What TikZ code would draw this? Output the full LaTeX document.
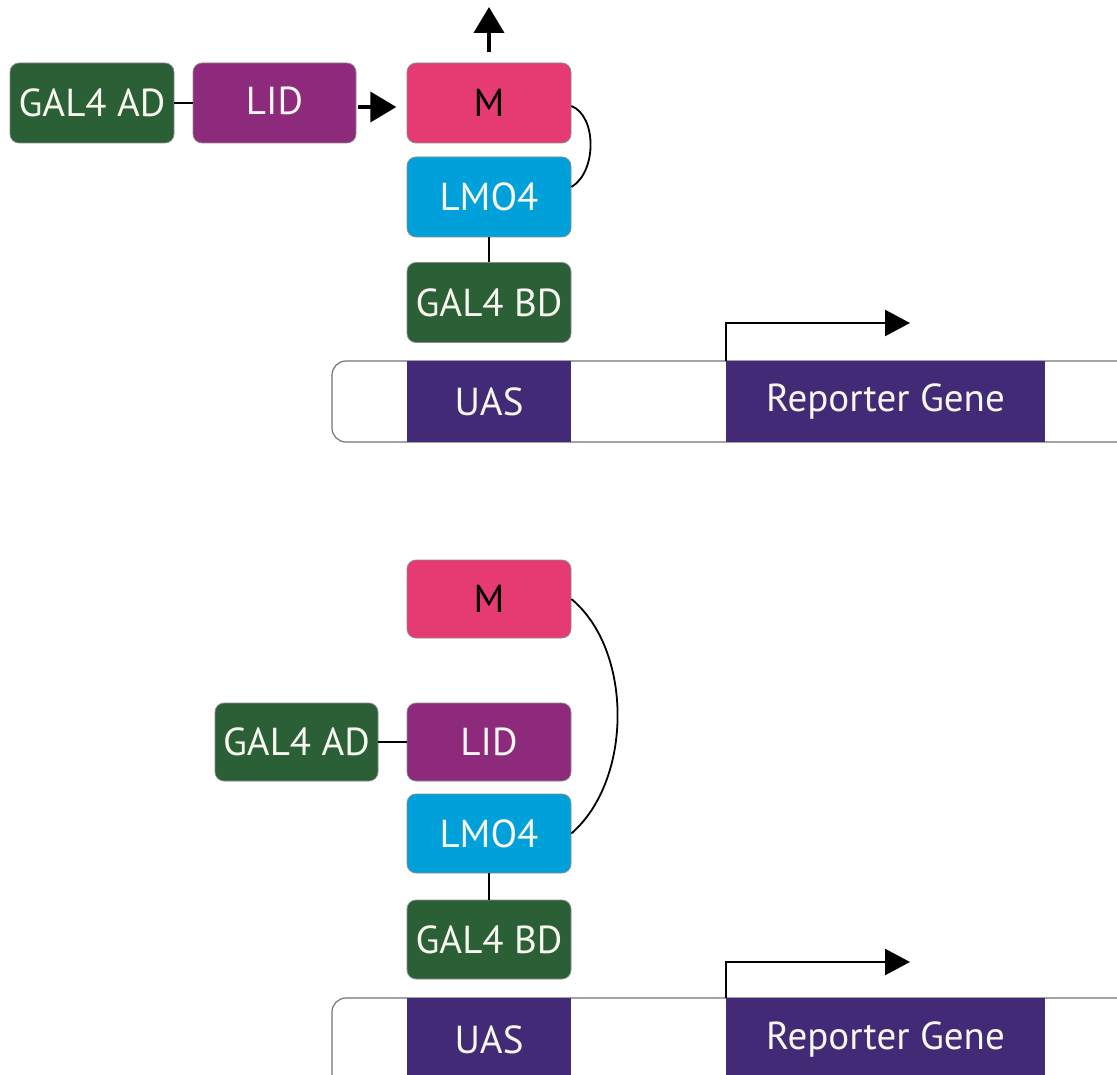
\documentclass[tikz,border=0pt]{standalone}
\usepackage{fontspec}
\setmainfont{PT Sans}
\usetikzlibrary{arrows.meta}
\definecolor{galgreen}{HTML}{2B5F35}
\definecolor{lidpurple}{HTML}{8E2A7B}
\definecolor{mpink}{HTML}{E63A72}
\definecolor{lmoblue}{HTML}{00A0DA}
\definecolor{dnapurple}{HTML}{432A76}
\definecolor{txtwhite}{HTML}{F7F7F0}
\tikzset{
  prot/.style={rounded corners=9pt, minimum width=164pt, minimum height=80pt, inner sep=0pt,
    draw=black!45, line width=0.7pt, text=txtwhite, font=\fontsize{39}{43}\selectfont},
  gene/.style={minimum height=81pt, inner sep=0pt, fill=dnapurple, draw=none,
    text=txtwhite, font=\fontsize{39}{43}\selectfont},
  link/.style={line width=1.8pt, black},
  bigarrow/.style={line width=4pt, -{Triangle[length=26pt,width=30pt]}},
  promarrow/.style={line width=2.4pt, -{Triangle[length=25pt,width=26pt]}},
}
\begin{document}
\begin{tikzpicture}[x=1pt,y=-1pt]
\clip (0,0) rectangle (1117,1075);
\fill[white] (0,0) rectangle (1117,1075);

% ---------- top panel ----------
\node[prot, fill=galgreen] (adT) at (92,103) {GAL4 AD};
\node[prot, fill=lidpurple, minimum width=163pt] (lidT) at (274.5,103) {\raisebox{4pt}{LID}};
\node[prot, fill=mpink, text=black] (mT) at (489,103) {M};
\node[prot, fill=lmoblue] (lmoT) at (489,197) {LMO4};
\node[prot, fill=galgreen] (bdT) at (489,302.5) {GAL4 BD};

\draw[rounded corners=14pt, draw=black!55, line width=1.2pt, fill=white]
  (1140,361) -- (332,361) -- (332,442) -- (1140,442);
\node[gene, minimum width=164pt] (uasT) at (489,401.5) {UAS};
\node[gene, minimum width=319pt] (repT) at (885.5,401.5) {Reporter Gene};

\draw[link] (adT) -- (lidT);
\draw[bigarrow] (lidT.east) ++(2,4) coordinate (lidTout) -- ++(38,0) coordinate (mTin);
\coordinate (mTup) at ([yshift=11pt]mT.north);
\coordinate (mTtop) at (489,7);
\draw[bigarrow] (mTup) -- (mTtop);
\draw[link] ([yshift=-3pt]mT.east) .. controls (597,116) and (597,172) .. ([yshift=10pt]lmoT.east);
\draw[link] (lmoT) -- (bdT);
\coordinate (promT) at (910,323);
\draw[promarrow] (repT.north west) |- (promT);

% ---------- bottom panel ----------
\node[prot, fill=mpink, text=black, minimum height=78pt] (mB) at (489,599) {M};
\node[prot, fill=galgreen, minimum width=163pt, minimum height=78pt] (adB) at (296.5,742) {GAL4 AD};
\node[prot, fill=lidpurple, minimum height=78pt] (lidB) at (489,742) {LID};
\node[prot, fill=lmoblue, minimum height=79pt] (lmoB) at (489,833.5) {LMO4};
\node[prot, fill=galgreen, minimum height=79pt] (bdB) at (489,939.5) {GAL4 BD};

\draw[rounded corners=14pt, draw=black!55, line width=1.2pt, fill=white]
  (1140,998) -- (332,998) -- (332,1090) -- (1140,1090);
\node[gene, minimum width=164pt, minimum height=84pt] (uasB) at (489,1040) {UAS};
\node[gene, minimum width=319pt, minimum height=84pt] (repB) at (885.5,1040) {Reporter Gene};

\draw[link] (adB) -- (lidB);
\draw[link] (mB.east) .. controls (633,650) and (633,780) .. (lmoB.east);
\draw[link] (lmoB) -- (bdB);
\coordinate (promB) at (910,962);
\draw[promarrow] (repB.north west) |- (promB);
\end{tikzpicture}
\end{document}
